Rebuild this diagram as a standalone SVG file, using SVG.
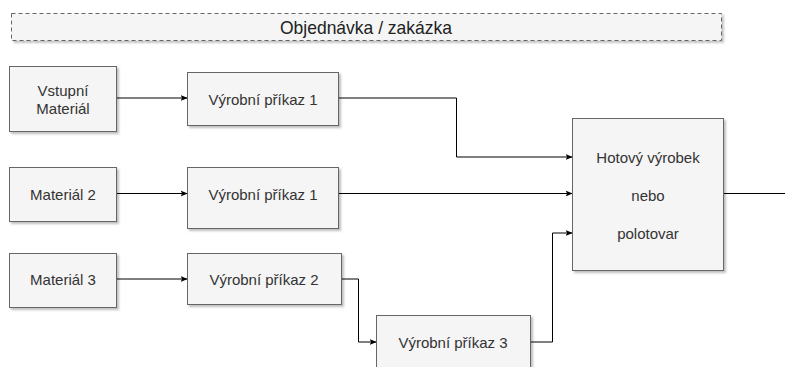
<svg xmlns="http://www.w3.org/2000/svg" width="785" height="367" viewBox="0 0 785 367">
<defs>
<filter id="sh" x="-10%" y="-10%" width="130%" height="130%">
<feDropShadow dx="2" dy="2" stdDeviation="1.2" flood-color="#000" flood-opacity="0.25"/>
</filter>
<marker id="ah" viewBox="0 0 10 10" refX="9" refY="5" markerWidth="7" markerHeight="7" markerUnits="userSpaceOnUse" orient="auto">
<path d="M0,1 L10,5 L0,9 L2,5 Z" fill="#000"/>
</marker>
</defs>
<style>
.n{fill:#f5f5f5;stroke:#666;stroke-width:1;filter:url(#sh)}
.t{font-family:"Liberation Sans",Arial,sans-serif;font-size:15px;fill:#333;text-anchor:middle;dominant-baseline:central}
.c{fill:none;stroke:#000;stroke-width:1;marker-end:url(#ah)}
.c2{fill:none;stroke:#000;stroke-width:1}
</style>
<rect width="785" height="367" fill="#fff"/>
<g id="order">
<rect x="11.5" y="13.5" width="710" height="27" fill="#f5f5f5" stroke="#666" stroke-dasharray="4 3" filter="url(#sh)"/>
<text x="366" y="27" textLength="172" lengthAdjust="spacingAndGlyphs" style="font-family:'Liberation Sans Narrow','Liberation Sans',Arial,sans-serif;font-size:19px;fill:#222;text-anchor:middle;dominant-baseline:central">Objednávka / zakázka</text>
</g>
<g id="connectors">
<path class="c" d="M117,98 H187"/>
<path class="c" d="M339,98 H456.5 V157 H572"/>
<path class="c" d="M117,193.5 H187"/>
<path class="c" d="M339,193.5 H572"/>
<path class="c2" d="M724,193.5 H785"/>
<path class="c" d="M117,279 H187"/>
<path class="c" d="M342,279 H358.5 V342 H376"/>
<path class="c" d="M531,342 H552.5 V233 H572"/>
</g>
<g id="vstupni">
<rect class="n" x="9.5" y="66.5" width="107" height="65"/>
<text class="t" x="63" y="90">Vstupní</text>
<text class="t" x="63" y="108">Materiál</text>
</g>
<g id="vp1a">
<rect class="n" x="187.5" y="72.5" width="151" height="53"/>
<text class="t" x="263" y="99">Výrobní příkaz 1</text>
</g>
<g id="mat2">
<rect class="n" x="9.5" y="167.5" width="107" height="54"/>
<text class="t" x="63" y="194">Materiál 2</text>
</g>
<g id="vp1b">
<rect class="n" x="187.5" y="167.5" width="151" height="61"/>
<text class="t" x="263" y="194">Výrobní příkaz 1</text>
</g>
<g id="mat3">
<rect class="n" x="9.5" y="253.5" width="107" height="54"/>
<text class="t" x="63" y="279">Materiál 3</text>
</g>
<g id="vp2">
<rect class="n" x="187.5" y="253.5" width="154" height="51"/>
<text class="t" x="264" y="279">Výrobní příkaz 2</text>
</g>
<g id="vp3">
<rect class="n" x="376.5" y="315.5" width="154" height="70"/>
<text class="t" x="453" y="342">Výrobní příkaz 3</text>
</g>
<g id="hotovy">
<rect class="n" x="572.5" y="118.5" width="151" height="152"/>
<text class="t" x="648" y="157">Hotový výrobek</text>
<text class="t" x="648" y="195">nebo</text>
<text class="t" x="648" y="233">polotovar</text>
</g>
</svg>
